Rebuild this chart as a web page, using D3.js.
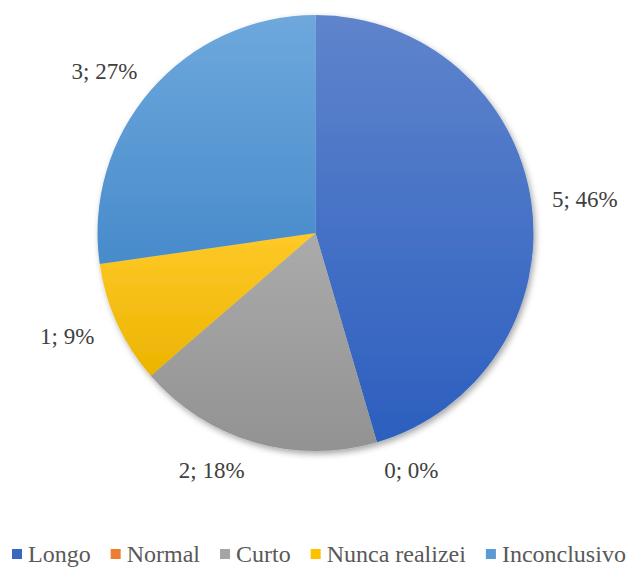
<!DOCTYPE html>
<html><head><meta charset="utf-8">
<script src="https://cdn.jsdelivr.net/npm/d3@7"></script>
<style>html,body{margin:0;padding:0;background:#fff;}svg{display:block;}
text{font-family:"Liberation Serif","Times New Roman","DejaVu Serif",serif;}</style>
</head><body>
<svg id="chart" width="630" height="568"></svg>
<script>
const categories = ["Longo", "Normal", "Curto", "Nunca realizei", "Inconclusivo"];
const values = [5, 0, 2, 1, 3];
const percentLabels = ["46%", "0%", "18%", "9%", "27%"];
const colorsTop = ["#5F84CC", "#F08A48", "#ABABAB", "#FFC928", "#6EA8DD"];
const colorsBottom = ["#2C5FBF", "#E0691E", "#929292", "#EBB400", "#478BCB"];
const legendColors = ["#3A67C2", "#ED7D31", "#A5A5A5", "#FFC000", "#5B9BD5"];
// label nudges (layout only) relative to the radial placement
const labelNudge = [[10,4],[22,-14],[-30,-14],[-10,-5],[-13,10]];

const svg = d3.select("#chart");
const W = 630, H = 568;
const cx = 315.5, cy = 233, R = 218;

const defs = svg.append("defs");
const f = defs.append("filter").attr("id","shadow").attr("x","-10%").attr("y","-10%").attr("width","125%").attr("height","125%");
f.append("feDropShadow").attr("dx",2).attr("dy",3).attr("stdDeviation",3).attr("flood-color","#000").attr("flood-opacity",0.35);

categories.forEach((c,i)=>{
  const g = defs.append("linearGradient").attr("id","grad"+i).attr("x1",0).attr("y1",0).attr("x2",0).attr("y2",1);
  g.append("stop").attr("offset","0%").attr("stop-color",colorsTop[i]);
  g.append("stop").attr("offset","100%").attr("stop-color",colorsBottom[i]);
});

const data = categories.map((c,i)=>({cat:c, value:values[i], pct:percentLabels[i], i}));
const pie = d3.pie().value(d=>d.value).sort(null).startAngle(0).endAngle(2*Math.PI);
const arcs = pie(data);
const arc = d3.arc().innerRadius(0).outerRadius(R);

const gPie = svg.append("g").attr("transform",`translate(${cx},${cy})`);
const gShadow = gPie.append("g").attr("filter","url(#shadow)");
gShadow.selectAll("path").data(arcs.filter(a=>a.value>0)).join("path")
  .attr("d",arc)
  .attr("fill",d=>`url(#grad${d.data.i})`);

const labelR = 262;
gPie.selectAll("text.lbl").data(arcs).join("text")
  .attr("class","lbl")
  .attr("x",d=>{const a=(d.startAngle+d.endAngle)/2; return labelR*Math.sin(a)+labelNudge[d.data.i][0];})
  .attr("y",d=>{const a=(d.startAngle+d.endAngle)/2; return -labelR*Math.cos(a)+labelNudge[d.data.i][1];})
  .attr("text-anchor","middle")
  .attr("dominant-baseline","central")
  .attr("font-size",23)
  .attr("fill","#404040")
  .text(d=>`${d.data.value}; ${d.data.pct}`);

// legend
const legendY = 554;
const gap = 20, sq = 10, txtOff = 16;
const lg = svg.append("g");
const items = lg.selectAll("g").data(data).join("g");
items.append("rect").attr("width",sq).attr("height",sq).attr("y",legendY-5)
  .attr("fill",d=>legendColors[d.i]);
items.append("text").attr("x",txtOff).attr("y",legendY)
  .attr("dominant-baseline","central")
  .attr("font-size",24)
  .attr("fill","#595959")
  .text(d=>d.cat);
let widths = [];
items.each(function(){ widths.push(txtOff + d3.select(this).select("text").node().getComputedTextLength()); });
let x = 12;
items.attr("transform",(d,i)=>{const t=`translate(${x},0)`; x += widths[i]+gap; return t;});
</script>
</body></html>
